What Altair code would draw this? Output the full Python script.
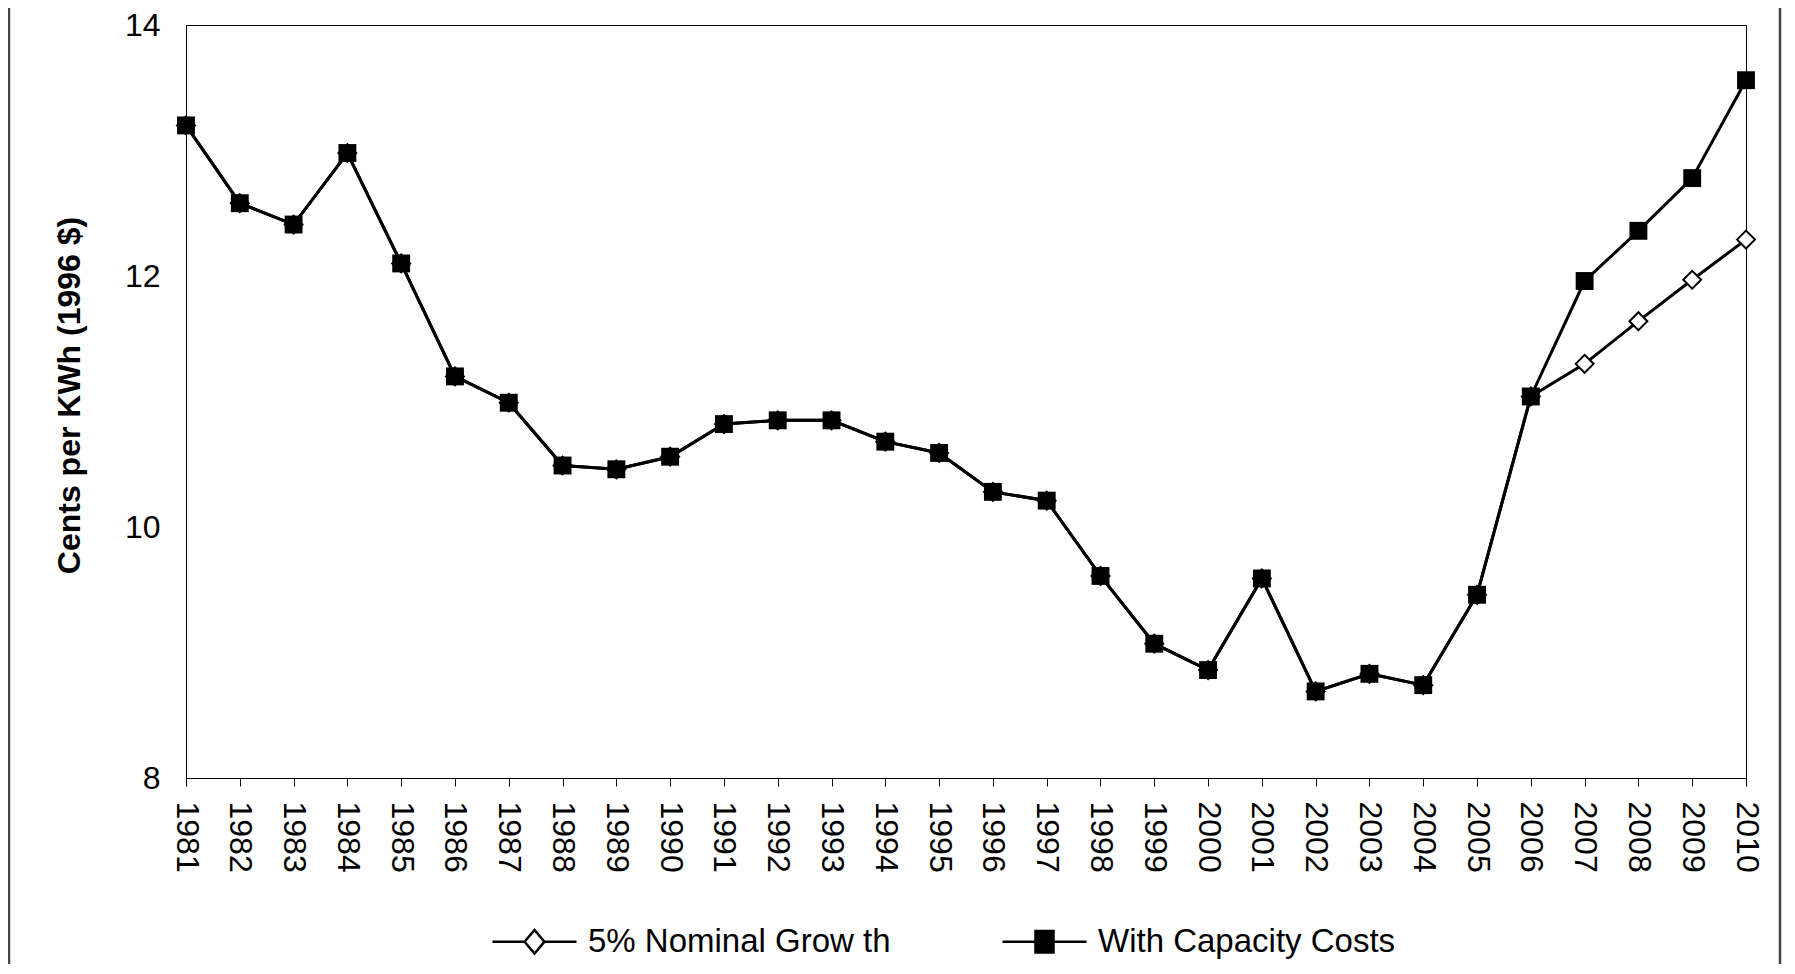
import altair as alt
import pandas as pd

years = [1981, 1982, 1983, 1984, 1985, 1986, 1987, 1988, 1989, 1990,
         1991, 1992, 1993, 1994, 1995, 1996, 1997, 1998, 1999, 2000,
         2001, 2002, 2003, 2004, 2005, 2006, 2007, 2008, 2009, 2010]
shared_values = [13.20, 12.58, 12.41, 12.98, 12.10, 11.20, 10.99, 10.49, 10.46, 10.56,
                 10.82, 10.85, 10.85, 10.68, 10.59, 10.28, 10.21, 9.61, 9.07, 8.86,
                 9.59, 8.69, 8.83, 8.74, 9.46, 11.04]
nominal_tail = [11.30, 11.64, 11.97, 12.29]
capacity_tail = [11.96, 12.36, 12.78, 13.56]
series_names = ["5% Nominal Grow th", "With Capacity Costs"]
y_ticks = [8, 10, 12, 14]
y_title = "Cents per KWh (1996 $)"

nominal = shared_values + nominal_tail
capacity = shared_values + capacity_tail

df = pd.DataFrame({
    "year": [str(y) for y in years] * 2,
    "value": nominal + capacity,
    "series": [series_names[0]] * len(years) + [series_names[1]] * len(years),
})

FONT = "Liberation Sans"

x_enc = alt.X(
    "year:O",
    scale=alt.Scale(type="point", padding=0),
    axis=alt.Axis(title=None, labelAngle=90, labelFontSize=32, labelFont=FONT,
                  labelColor="black", labelPadding=15, tickSize=8, tickColor="black",
                  domainColor="black", labelOverlap=False, grid=False),
)
y_enc = alt.Y(
    "value:Q",
    scale=alt.Scale(domain=[8, 14], nice=False, zero=False),
    axis=alt.Axis(values=y_ticks, title=y_title, titleFontSize=32, titleFont=FONT,
                  titleFontWeight="bold", titleColor="black", titleX=-117, titleY=370,
                  titleAngle=270, titleAlign="center", titleBaseline="middle",
                  grid=False, ticks=False, labelPadding=26, labelFontSize=32,
                  labelFont=FONT, labelColor="black", domainColor="black"),
)

base = alt.Chart(df)

lines = base.mark_line(color="black", strokeWidth=3).encode(
    x=x_enc, y=y_enc, detail="series:N"
)

nominal_pts = base.transform_filter(alt.datum.series == series_names[0]).mark_point(
    shape="diamond", filled=True, fill="white", stroke="black", strokeWidth=2,
    size=320, opacity=1
).encode(x=x_enc, y=y_enc)

capacity_pts = base.transform_filter(alt.datum.series == series_names[1]).mark_square(
    color="black", size=320, opacity=1
).encode(x=x_enc, y=y_enc)

diamond_path = "M-4.67,0H-1.1M1.1,0H4.67M-1.1,0L0,-1.3L1.1,0L0,1.3Z"
square_path = "M-4.67,0H-1M1,0H4.67M-1,-1.2H1V1.2H-1Z"

legend_layer = base.transform_filter("false").mark_point(
    filled=True, stroke="black", strokeWidth=2.5, opacity=1
).encode(
    x=x_enc, y=y_enc,
    color=alt.Color("series:N", scale=alt.Scale(domain=series_names, range=["white", "black"]),
                    legend=alt.Legend(title=None)),
    shape=alt.Shape("series:N", scale=alt.Scale(domain=series_names, range=[diamond_path, square_path]),
                    legend=alt.Legend(title=None)),
)

frame = alt.Chart(pd.DataFrame({"k": [0]})).mark_rule(color="#444", strokeWidth=2.5).encode(
    x=alt.value(-177), y=alt.value(-20), y2=alt.value(960)
)
frame_r = alt.Chart(pd.DataFrame({"k": [0]})).mark_rule(color="#444", strokeWidth=2.5).encode(
    x=alt.value(1594), y=alt.value(-20), y2=alt.value(960)
)

chart = alt.layer(lines, nominal_pts, capacity_pts, legend_layer, frame, frame_r).properties(
    width=1560, height=753,
    padding={"left": 178, "top": 17, "right": 41, "bottom": 186},
    autosize=alt.AutoSizeParams(type="none"),
    background="white",
).configure_view(
    stroke="black", strokeWidth=1
).configure_legend(
    orient="none", legendX=332, legendY=900, direction="horizontal",
    symbolSize=324, symbolStrokeWidth=2.5, symbolStrokeColor="black",
    labelFontSize=33, labelFont=FONT, labelColor="black", labelOffset=37,
    columnPadding=106, labelLimit=0,
)

chart.save("out.html", embed_options={"renderer": "svg", "actions": False})
